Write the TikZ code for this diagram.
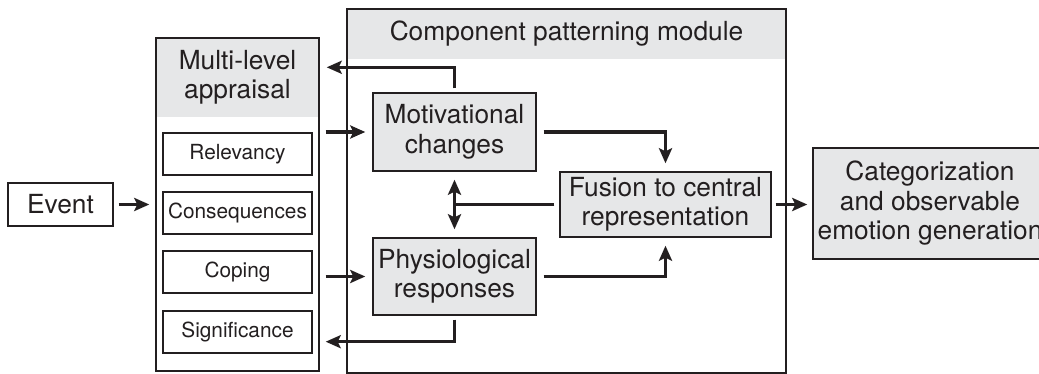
\documentclass[tikz,border=0pt]{standalone}
\usepackage{fontspec}
\setmainfont{TeX Gyre Heros}
\usetikzlibrary{arrows.meta,calc}
\definecolor{boxgray}{HTML}{E6E7E8}
\definecolor{ink}{HTML}{231F20}

\tikzset{
  txt/.style={font=\fontsize{26.3}{29.5}\selectfont, align=center, text=ink},
  smalltxt/.style={font=\fontsize{20.8}{24}\selectfont, align=center, text=ink},
  graybox/.style={txt, draw=ink, line width=1.4pt, fill=boxgray, inner sep=0pt},
  whitebox/.style={txt, draw=ink, line width=1.4pt, fill=white, inner sep=0pt},
  itembox/.style={smalltxt, draw=ink, line width=1.4pt, fill=white, inner sep=0pt,
    minimum width=149pt, minimum height=42pt},
  frame/.style={draw=ink, line width=1.4pt, inner sep=0pt},
  band/.style={txt, fill=boxgray, inner sep=0pt},
  tip/.style={Stealth[length=15pt, width=13pt, inset=3pt]},
  arr/.style={draw=ink, line width=3.5pt, -{Stealth[length=15pt, width=13pt, inset=3pt]}},
  dblarr/.style={draw=ink, line width=3.5pt,
    {Stealth[length=15pt, width=13pt, inset=3pt]}-{Stealth[length=15pt, width=13pt, inset=3pt]}},
  link/.style={draw=ink, line width=3.5pt},
}

\begin{document}
\begin{tikzpicture}[x=1pt, y=-1pt]
\useasboundingbox (0,0) rectangle (1039,374);
\clip (0,0) rectangle (1039,374);

% Event
\node[whitebox, minimum width=105pt, minimum height=43pt] (event) at (60.5,204.5) {Event};

% Multi-level appraisal column
\node[band, minimum width=162pt, minimum height=79pt] (apprhead) at (237.5,77.5) {Multi-level\\appraisal};
\node[frame, minimum width=163pt, minimum height=333pt] (appr) at (237.5,204.5) {};
\node[itembox] (relev) at (237.5,154) {Relevancy};
\node[itembox] (conseq) at (237.5,213) {Consequences};
\node[itembox] (coping) at (237.5,272) {Coping};
\node[itembox] (signif) at (237.5,332) {Significance};

% Component patterning module
\node[band, minimum width=438pt, minimum height=50pt] (modhead) at (566.5,34) {Component patterning module};
\node[frame, minimum width=439pt, minimum height=364pt] (module) at (566.5,191) {};
\node[graybox, minimum width=163pt, minimum height=78pt] (motiv) at (454.5,132) {Motivational\\changes};
\node[graybox, minimum width=163pt, minimum height=77pt] (physio) at (454.5,276.5) {Physiological\\responses};
\node[graybox, minimum width=211pt, minimum height=65pt] (fusion) at (665.5,204.5) {Fusion to central\\representation};

% Output
\node[graybox, minimum width=234pt, minimum height=111pt] (categ) at (930,203.5) {Categorization\\and observable\\emotion generation};

% helper points
\coordinate (apprR) at ($(appr.east)+(6,0)$);
\coordinate (topy) at ($(motiv.north)+(0,-25)$);
\coordinate (boty) at ($(physio.south)+(0,26)$);
\coordinate (fusL) at ($(fusion.west)+(-5,0)$);

% connectors
\draw[arr] ($(event.east)+(5,0)$) -- ($(appr.west)+(-6,0)$);
\draw[arr] (apprR |- motiv.west) -- ($(motiv.west)+(-7,0)$);
\draw[arr] (apprR |- physio.west) -- ($(physio.west)+(-7,0)$);
\draw[arr] ($(motiv.north)+(0,-4)$) -- (topy) -- ($(apprR |- topy)+(1,0)$);
\draw[arr] ($(physio.south)+(0,4)$) -- (boty) -- ($(apprR |- boty)$);
\draw[arr] ($(motiv.east)+(7,0)$) -| ($(fusion.north)+(0,-8)$);
\draw[arr] ($(physio.east)+(7,0)$) -| ($(fusion.south)+(0,8)$);
\draw[dblarr] ($(motiv.south)+(0,8)$) -- ($(physio.north)+(0,-8)$);
\draw[link] (fusL) -- (fusL -| motiv.south);
\draw[arr] ($(fusion.east)+(4,0)$) -- ($(categ.west |- fusion.east)+(-5,0)$);
\end{tikzpicture}
\end{document}
